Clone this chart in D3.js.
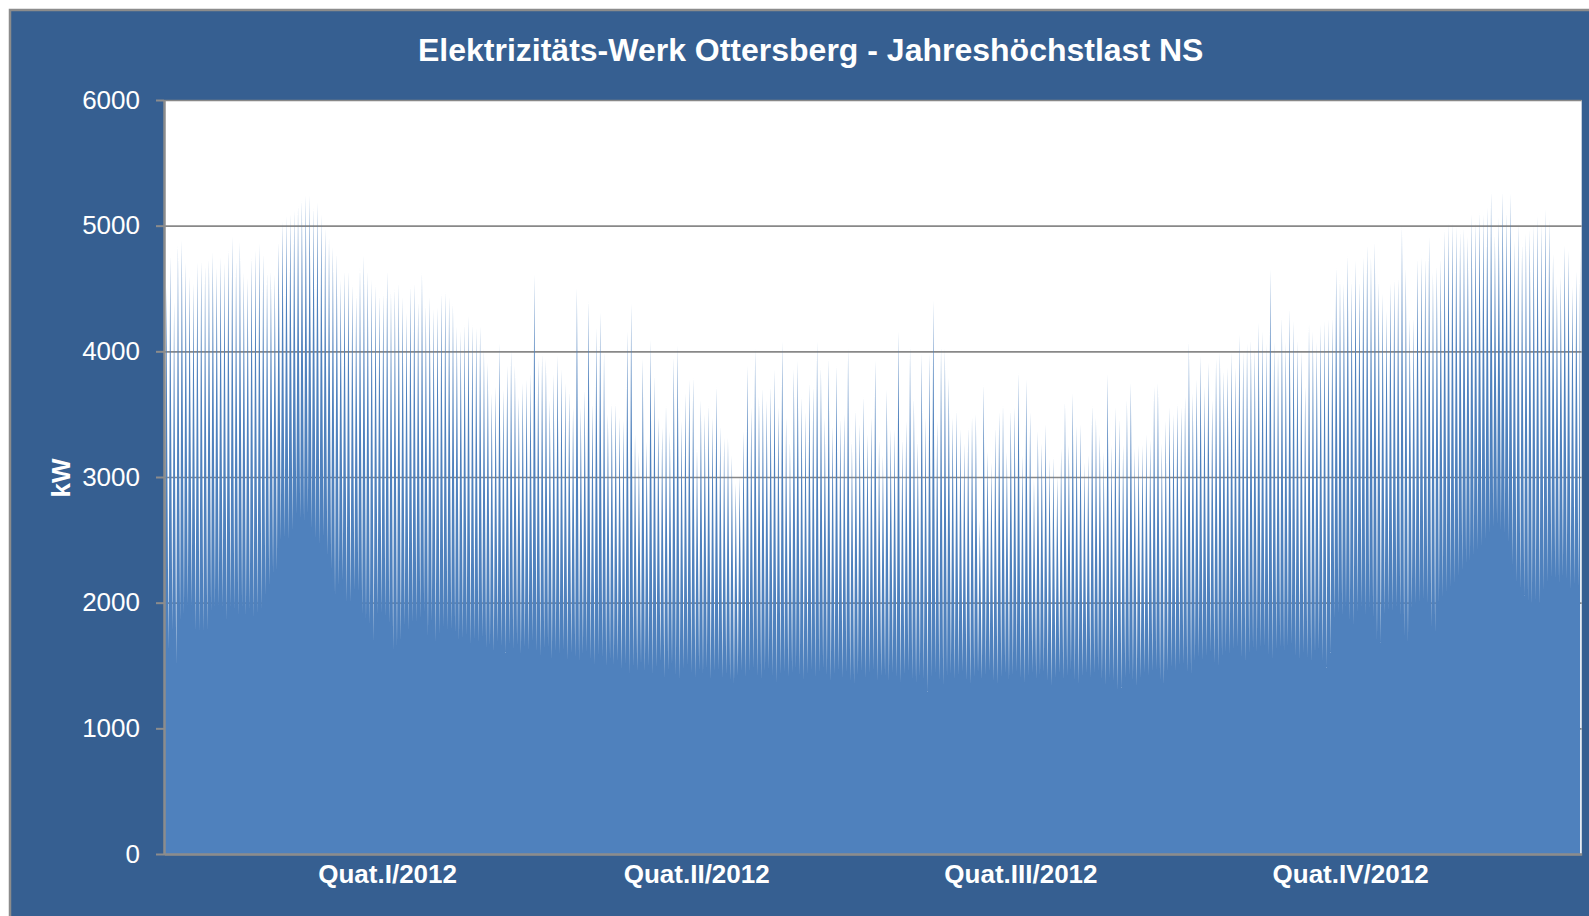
<!DOCTYPE html>
<html><head><meta charset="utf-8">
<script src="https://cdnjs.cloudflare.com/ajax/libs/d3/7.8.5/d3.min.js"></script>
<style>
body{margin:0;background:#fff;}
svg{display:block;}
text{font-family:"Liberation Sans",Arial,sans-serif;}
</style>
</head><body>
<svg id="chart" width="1589" height="916"></svg>
<script>
// ---------- data ----------
const chartTitle = "Elektrizitäts-Werk Ottersberg - Jahreshöchstlast NS";
const yAxisTitle = "kW";
const yTicks = [0, 1000, 2000, 3000, 4000, 5000, 6000];
const quarterLabels = ["Quat.I/2012", "Quat.II/2012", "Quat.III/2012", "Quat.IV/2012"];
const quarterLabelDays = [57.6, 137.4, 221.1, 306.2];
const daysInYear = 366;

// daily peak load (kW), 1 Jan 2012 .. 31 Dec 2012
const dailyMax = [
4515,4760,4392,4844,4885,4707,4597,4542,4707,4720,
4679,4734,4789,4666,4748,4707,4816,4912,4720,4871,
4625,4583,4748,4803,4858,4775,4625,4638,4611,4871,
5036,5077,5090,5118,5159,5200,5241,5241,5145,5186,
5090,4980,4899,4830,4775,4570,4638,4638,4529,4447,
4666,4762,4638,4570,4529,4447,4460,4638,4474,4501,
4542,4433,4310,4515,4542,4392,4625,4364,4433,4337,
4350,4460,4474,4433,4378,4200,4159,4214,4282,4214,
4186,4200,4022,3912,3666,3721,4063,3694,3885,4008,
3885,3639,3748,3776,3830,4611,3940,3981,3940,3611,
3817,3967,3858,3748,3680,3556,4501,3556,3694,4405,
3584,4186,4310,3994,3502,3584,3584,3474,3447,4159,
4378,3338,3200,3940,3282,4090,3803,3474,3392,3570,
3365,3954,4049,3447,3666,3776,3790,3227,3611,3502,
3570,3474,3721,3406,3310,3310,3173,2953,3005,3365,
3885,3556,4020,3639,3707,3611,3721,3858,3556,4077,
3474,3282,3858,3926,3639,3515,3748,3721,4077,3872,
3474,3940,3406,3885,3461,3502,4022,3282,3529,3420,
3639,3338,3474,3926,3296,3173,3694,3379,3379,4159,
3296,3447,4036,3625,3282,3981,3474,3981,4405,3447,
4036,4022,3790,3474,3529,3379,3269,3392,3474,3502,
2652,3735,3200,3118,3392,3515,3570,3200,3529,3556,
3830,3173,3776,3515,2981,3365,3269,3420,3145,3159,
3008,3227,3597,3255,3666,3406,3420,3118,3173,3570,
3474,3338,3200,3817,3255,3556,3461,3255,3611,3748,
3227,3255,3255,3338,3296,3721,3748,3269,3447,3556,
3502,3584,3556,3639,4077,3666,3776,3967,3721,3912,
3611,3940,3994,3844,3872,3994,3872,4131,3994,4063,
4090,4022,4227,4159,4063,4652,4077,3994,4268,4077,
4337,4241,4090,4008,3721,4214,4159,4077,4214,4241,
4255,4268,4666,4570,4542,4762,4556,4720,4556,4748,
4844,4748,4871,4556,4460,4323,4542,4570,4583,4995,
4666,4268,4268,4734,4748,4734,4912,4625,4679,4734,
4967,5022,5022,4995,4953,4981,4912,5090,5036,5104,
5090,5145,5268,4926,5063,5268,5104,5255,4885,5022,
4858,4940,4967,5008,5077,5022,5131,5049,4775,4542,
4597,4844,4803,4515,4638,4816
];

// daily night-time minimum load (kW)
const dailyMin = [
1850,1620,1780,1500,1850,1910,1980,1960,1770,1770,
1770,1780,1930,1960,1970,1950,1860,1950,1940,1900,
1960,1890,1950,1880,1900,1950,2050,2130,2230,2250,
2500,2510,2500,2565,2700,2670,2640,2700,2580,2500,
2460,2520,2370,2260,2050,2130,2180,2000,1995,2100,
2090,1900,1850,1820,1690,1900,1915,1890,1820,1620,
1640,1700,1810,1780,1840,1850,1875,1915,1740,1850,
1690,1740,1810,1780,1780,1760,1700,1720,1740,1660,
1700,1680,1720,1640,1660,1610,1690,1650,1600,1670,
1630,1660,1590,1650,1620,1690,1610,1570,1630,1650,
1550,1610,1590,1620,1540,1600,1570,1530,1590,1610,
1550,1510,1580,1560,1490,1550,1510,1530,1470,1510,
1430,1490,1450,1500,1450,1500,1420,1480,1530,1400,
1460,1490,1420,1380,1470,1500,1440,1400,1460,1420,
1480,1390,1450,1470,1400,1430,1380,1350,1420,1460,
1400,1440,1480,1420,1390,1450,1470,1410,1360,1430,
1450,1400,1440,1470,1420,1380,1430,1460,1400,1440,
1470,1420,1370,1430,1450,1400,1440,1380,1350,1420,
1450,1400,1440,1460,1380,1410,1420,1380,1440,1400,
1360,1420,1450,1390,1350,1410,1380,1290,1400,1440,
1380,1340,1400,1430,1390,1420,1450,1380,1350,1410,
1440,1390,1420,1450,1370,1340,1400,1430,1380,1420,
1450,1390,1350,1410,1440,1390,1420,1450,1380,1340,
1400,1440,1390,1420,1460,1380,1350,1410,1440,1400,
1430,1460,1390,1340,1400,1370,1300,1320,1400,1420,
1380,1330,1400,1440,1420,1450,1470,1380,1350,1450,
1480,1460,1500,1510,1440,1420,1530,1560,1540,1580,
1600,1520,1490,1570,1600,1590,1620,1640,1560,1530,
1600,1630,1610,1640,1650,1580,1540,1620,1640,1610,
1650,1660,1570,1540,1600,1560,1520,1580,1620,1530,
1480,1600,1880,1920,1900,1950,1850,1820,1920,1950,
1900,1950,1880,1700,1680,1900,1940,1920,1960,1900,
1720,1690,1950,1980,2000,2020,1980,1800,1760,2000,
2050,2080,2120,2150,2200,2250,2300,2330,2380,2420,
2450,2500,2550,2600,2620,2580,2550,2480,2300,2150,
2100,2050,2000,1980,2020,1970,2100,2150,2200,2180,
2150,2200,2180,2100,2150,2120
];

// ---------- drawing ----------
const svg = d3.select("#chart");
const plotL = 164, plotR = 1581.7, plotT = 100, plotB = 854;

const x = d3.scaleLinear().domain([0, daysInYear]).range([plotL, plotR]);
const y = d3.scaleLinear().domain([0, 6000]).range([plotB, plotT]);

// chart area background with border
svg.append("rect")
  .attr("x", 10).attr("y", 10).attr("width", 1620).attr("height", 940)
  .attr("fill", "#365f91").attr("stroke", "#8c8c8c").attr("stroke-width", 2.5);

// plot area
svg.append("rect")
  .attr("x", plotL).attr("y", plotT).attr("width", plotR - plotL).attr("height", plotB - plotT)
  .attr("fill", "#ffffff");

// gridlines
svg.append("g")
  .attr("transform", `translate(${plotL},0)`)
  .call(d3.axisLeft(y).tickValues(yTicks).tickSize(-(plotR - plotL)).tickFormat(""))
  .call(g => g.select(".domain").remove())
  .call(g => g.selectAll("line").attr("stroke", "#888888").attr("stroke-width", 1.6));

// load area: each day a trough (night minimum) and a peak
const pts = [];
dailyMin.forEach((m, i) => {
  pts.push([i + 0.15, m]);
  pts.push([i + 0.6, dailyMax[i]]);
});
const area = d3.area()
  .x(d => x(d[0]))
  .y0(y(0))
  .y1(d => y(d[1]));
svg.append("path").datum(pts)
  .attr("d", area)
  .attr("fill", "#4f81bd");

// y axis
const yAxis = svg.append("g")
  .attr("transform", `translate(${plotL},0)`)
  .call(d3.axisLeft(y).tickValues(yTicks).tickSize(8).tickSizeOuter(0).tickPadding(16).tickFormat(d3.format("d")));
yAxis.select(".domain").attr("stroke", "#8c8c8c").attr("stroke-width", 2.5);
yAxis.selectAll("line").attr("stroke", "#8c8c8c").attr("stroke-width", 2);
yAxis.selectAll("text")
  .attr("fill", "#ffffff")
  .style("font-size", "26px")
  .style("font-family", "'Liberation Sans', Arial, sans-serif");

// x axis
const xAxis = svg.append("g")
  .attr("transform", `translate(0,${plotB})`)
  .call(d3.axisBottom(x).tickValues(quarterLabelDays).tickSize(0).tickSizeOuter(0).tickPadding(11)
        .tickFormat((d, i) => quarterLabels[i]));
xAxis.select(".domain").attr("stroke", "#8c8c8c").attr("stroke-width", 2.5);
xAxis.selectAll("text")
  .attr("fill", "#ffffff")
  .style("font-size", "26px")
  .style("font-weight", "bold")
  .style("font-family", "'Liberation Sans', Arial, sans-serif");

// title
svg.append("text")
  .attr("x", 810.7).attr("y", 61)
  .attr("text-anchor", "middle")
  .attr("fill", "#ffffff")
  .style("font-size", "32px")
  .style("font-weight", "bold")
  .text(chartTitle);

// y axis title
svg.append("text")
  .attr("transform", "translate(70,478) rotate(-90)")
  .attr("text-anchor", "middle")
  .attr("fill", "#ffffff")
  .style("font-size", "26px")
  .style("font-weight", "bold")
  .text(yAxisTitle);
</script>
</body></html>
